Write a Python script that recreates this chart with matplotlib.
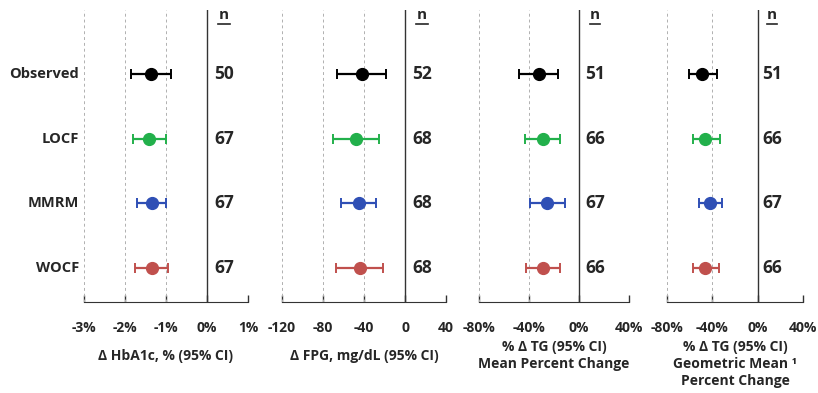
import matplotlib.pyplot as plt

plt.rcParams['font.family'] = ['Open Sans', 'DejaVu Sans']

# rows, top to bottom
methods = ['Observed', 'LOCF', 'MMRM', 'WOCF']
colors = ['#000000', '#22b04b', '#2f4fb5', '#c0504d']

# panel 1: change in HbA1c (%)
hba1c_mean = [-1.37, -1.41, -1.35, -1.35]
hba1c_lo = [-1.85, -1.81, -1.70, -1.76]
hba1c_hi = [-0.89, -1.01, -0.99, -0.94]
hba1c_n = [50, 67, 67, 67]

# panel 2: change in FPG (mg/dL)
fpg_mean = [-42, -47.5, -45, -44.3]
fpg_lo = [-66, -70, -62, -67.7]
fpg_hi = [-18.5, -25, -28.7, -21.9]
fpg_n = [52, 68, 68, 68]

# panel 3: TG mean percent change
tg_mean = [-32.3, -28.6, -25.4, -28.6]
tg_lo = [-47.8, -43, -39, -42.4]
tg_hi = [-16.8, -15, -11.5, -15.2]
tg_n = [51, 66, 67, 66]

# panel 4: TG geometric mean percent change
tgg_mean = [-49.5, -46.6, -42.5, -46.6]
tgg_lo = [-60.4, -57.5, -52, -57.3]
tgg_hi = [-35.7, -33.6, -31.2, -33.9]
tgg_n = [51, 66, 67, 66]

panels = [
    dict(mean=hba1c_mean, lo=hba1c_lo, hi=hba1c_hi, n=hba1c_n,
         ticks=[-3, -2, -1, 0, 1], labels=['-3%', '-2%', '-1%', '0%', '1%'],
         xlabel='Δ HbA1c, % (95% CI)', left=84, right=248),
    dict(mean=fpg_mean, lo=fpg_lo, hi=fpg_hi, n=fpg_n,
         ticks=[-120, -80, -40, 0, 40], labels=['-120', '-80', '-40', '0', '40'],
         xlabel='Δ FPG, mg/dL (95% CI)', left=282, right=446),
    dict(mean=tg_mean, lo=tg_lo, hi=tg_hi, n=tg_n,
         ticks=[-80, -40, 0, 40], labels=['-80%', '-40%', '0%', '40%'],
         xlabel='% Δ TG (95% CI)\nMean Percent Change', left=479, right=629),
    dict(mean=tgg_mean, lo=tgg_lo, hi=tgg_hi, n=tgg_n,
         ticks=[-80, -40, 0, 40], labels=['-80%', '-40%', '0%', '40%'],
         xlabel='% Δ TG (95% CI)\nGeometric Mean ¹\nPercent Change', left=667, right=803),
]

W, H = 818, 393
fig = plt.figure(figsize=(W / 100, H / 100), dpi=100)

ypos = [3, 2, 1, 0]
top, bottom = 10, 302
txt = '#262626'

for i, p in enumerate(panels):
    ax = fig.add_axes([p['left'] / W, 1 - bottom / H,
                       (p['right'] - p['left']) / W, (bottom - top) / H])
    ax.set_xlim(p['ticks'][0], p['ticks'][-1])
    ax.set_ylim(-0.53, 4.0)
    for t in p['ticks']:
        if t == 0:
            ax.axvline(0, color='#333333', lw=1.0)
        else:
            ax.axvline(t, color='#b0b0b0', lw=0.7, ls=(0, (3, 3)))
    for k in range(4):
        m = p['mean'][k]
        ax.errorbar(m, ypos[k], xerr=[[m - p['lo'][k]], [p['hi'][k] - m]],
                    fmt='o', color=colors[k], ms=8.5, elinewidth=1.6,
                    capsize=3.5, capthick=1.4, zorder=3)
    # n column, just right of zero, with underlined header
    span = p['ticks'][-1] - p['ticks'][0]
    xn = 0 + span * 0.105
    ax.text(xn, 3.93, 'n', ha='center', va='center',
            fontsize=11, fontweight='bold', color=txt)
    ax.plot([xn - span * 0.035, xn + span * 0.035], [3.78, 3.78],
            color=txt, lw=1.2)
    for k in range(4):
        ax.text(xn, ypos[k], str(p['n'][k]), ha='center', va='center',
                fontsize=12.5, fontweight='bold', color=txt)
    ax.set_xticks(p['ticks'])
    ax.set_xticklabels(p['labels'], fontsize=10, fontweight='bold', color=txt)
    ax.tick_params(axis='x', direction='in', length=5, width=1, color='#333333', pad=14)
    ax.set_yticks([])
    for s in ['left', 'right', 'top']:
        ax.spines[s].set_visible(False)
    ax.spines['bottom'].set_color('#333333')
    ax.set_xlabel(p['xlabel'], fontsize=10, fontweight='bold', color=txt,
                  labelpad=3 if i >= 2 else 10, linespacing=1.3)
    if i == 0:
        for k in range(4):
            ax.text(-3.12, ypos[k], methods[k], ha='right', va='center',
                    fontsize=10.5, fontweight='bold', color=txt)

fig.savefig('out.png', dpi=100)
